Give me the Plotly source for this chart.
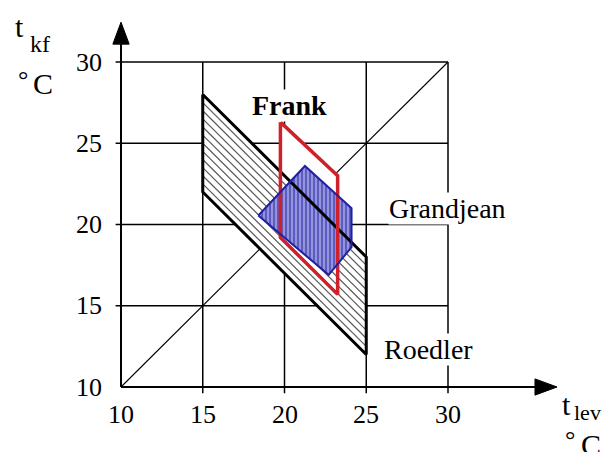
import numpy as np
import plotly.graph_objects as go

# ---- data -------------------------------------------------------------
# comfort zones: wall temperature t_kf vs. air temperature t_lev (°C)
roedler_x = [15, 25, 25, 15]
roedler_y = [28, 18, 12, 22]

frank_x = [19.75, 23.25, 23.25, 19.75]
frank_y = [26.3, 23.0, 15.7, 19.2]

grandjean_x = [18.4, 21.25, 24.1, 24.1, 22.7]
grandjean_y = [20.55, 23.6, 21.0, 18.6, 16.9]

tick_values = [10, 15, 20, 25, 30]
tick_labels = ["10", "15", "20", "25", "30"]

zone_names = ["Frank", "Grandjean", "Roedler"]

# ---- styling ----------------------------------------------------------
FONT = "Liberation Serif"
W, H = 605, 452
# pixel placement of the data origin and pixels per degree
X0_PX, X_SCALE = 121, 16.35
Y0_PX, Y_SCALE = 387, 16.25
x_range = [10 - X0_PX / X_SCALE, 10 + (W - X0_PX) / X_SCALE]
y_range = [10 - (H - Y0_PX) / Y_SCALE, 10 + Y0_PX / Y_SCALE]

LO, HI = tick_values[0], tick_values[-1]
X_TIP, Y_TIP = 36.67, 32.45

fig = go.Figure()


def seg(x, y, color="black", width=1.5, dash=None):
    fig.add_trace(go.Scatter(x=x, y=y, mode="lines", hoverinfo="skip",
                             line=dict(color=color, width=width, dash=dash),
                             showlegend=False))


def closed(xs):
    return list(xs) + [xs[0]]


# grid box (lines run slightly past the axes to form ticks)
for v in tick_values[1:]:
    seg([v, v], [LO - 0.38, HI])
    seg([LO - 0.33, HI], [v, v])

# equal-temperature diagonal
seg([LO, HI], [LO, HI], width=1.1)

# Frank zone: white body (outline drawn later)
fig.add_trace(go.Scatter(x=closed(frank_x), y=closed(frank_y), mode="lines",
                         fill="toself", fillcolor="white",
                         line=dict(width=0, color="white"),
                         hoverinfo="skip", showlegend=False))

# Roedler band: white body with diagonal hatching
fig.add_trace(go.Scatter(x=closed(roedler_x), y=closed(roedler_y), mode="lines",
                         fill="toself", fillcolor="white",
                         line=dict(width=0, color="white"),
                         hoverinfo="skip", showlegend=False))
c_low = roedler_x[0] + roedler_y[3]
c_high = roedler_x[0] + roedler_y[0]
HATCH_STEP = 0.5
for c in np.arange(c_low + HATCH_STEP, c_high - 1e-9, HATCH_STEP):
    xa, xb = roedler_x[0], roedler_x[1]
    seg([xa, xb], [c - xa, c - xb], color="#5a5a5a", width=1.2)

# Grandjean zone: blue vertical hatching
fig.add_trace(go.Scatter(x=closed(grandjean_x), y=closed(grandjean_y), mode="lines",
                         fill="toself", fillcolor="#9090da",
                         fillpattern=dict(shape="|", fgcolor="#2424a4",
                                          bgcolor="#9494dc", size=4, solidity=0.5),
                         line=dict(width=0, color="#2424a4"),
                         hoverinfo="skip", showlegend=False))

# outlines
seg(closed(roedler_x), closed(roedler_y), color="black", width=3)
seg(closed(frank_x), closed(frank_y), color="#d0202a", width=3.5)
seg(closed(grandjean_x), closed(grandjean_y), color="#2020a0", width=2)

# axes with arrow heads
seg([LO, LO], [LO, Y_TIP - 0.6], width=2)
seg([LO, X_TIP - 0.6], [LO, LO], width=2)
fig.add_trace(go.Scatter(x=[LO - 0.5, LO, LO + 0.5, LO - 0.5],
                         y=[Y_TIP - 1.35, Y_TIP, Y_TIP - 1.35, Y_TIP - 1.35],
                         mode="lines", fill="toself", fillcolor="black",
                         line=dict(color="black", width=1),
                         hoverinfo="skip", showlegend=False))
fig.add_trace(go.Scatter(x=[X_TIP - 1.35, X_TIP, X_TIP - 1.35, X_TIP - 1.35],
                         y=[LO - 0.5, LO, LO + 0.5, LO - 0.5],
                         mode="lines", fill="toself", fillcolor="black",
                         line=dict(color="black", width=1),
                         hoverinfo="skip", showlegend=False))

annotations = []
tick_font = dict(family=FONT, size=26, color="black")
for v, lab in zip(tick_values, tick_labels):
    annotations.append(dict(x=v, y=LO - 1.72, text=lab, showarrow=False,
                            xanchor="center", yanchor="middle", font=tick_font))
    annotations.append(dict(x=LO - 1.05, y=v, text=lab, showarrow=False,
                            xanchor="right", yanchor="middle", font=tick_font))

# zone names
name_pos = {"Frank": (20.28, 27.35), "Grandjean": (29.94, 21.0),
            "Roedler": (28.78, 12.3)}
for name in zone_names:
    x, y = name_pos[name]
    txt = "<b>%s</b>" % name if name == "Frank" else name
    annotations.append(dict(x=x, y=y, text=txt, showarrow=False,
                            xanchor="center", yanchor="middle",
                            bgcolor="white", borderpad=0,
                            font=dict(family=FONT, size=28, color="black")))


def label(x, y, text, size, xanchor="left", yanchor="middle"):
    annotations.append(dict(x=x, y=y, text=text, showarrow=False,
                            xanchor=xanchor, yanchor=yanchor,
                            font=dict(family=FONT, size=size, color="black")))


# axis titles: t_kf and t_lev with their units
label(3.39, 33.35, "t", 30, yanchor="top")
label(4.31, 31.1, "kf", 24)
label(3.58, 28.9, "°", 26)
label(4.50, 28.7, "C", 30)

label(36.85, 10.05, "t", 30, yanchor="top")
label(37.58, 8.46, "lev", 22)
label(37.03, 6.75, "°", 26)
label(38.01, 6.45, "C", 30)

fig.update_layout(
    width=W, height=H,
    margin=dict(l=0, r=0, t=0, b=0),
    paper_bgcolor="white", plot_bgcolor="white",
    xaxis=dict(range=x_range, visible=False, fixedrange=True),
    yaxis=dict(range=y_range, visible=False, fixedrange=True),
    annotations=annotations,
    showlegend=False,
)

fig.write_html("out.html")
